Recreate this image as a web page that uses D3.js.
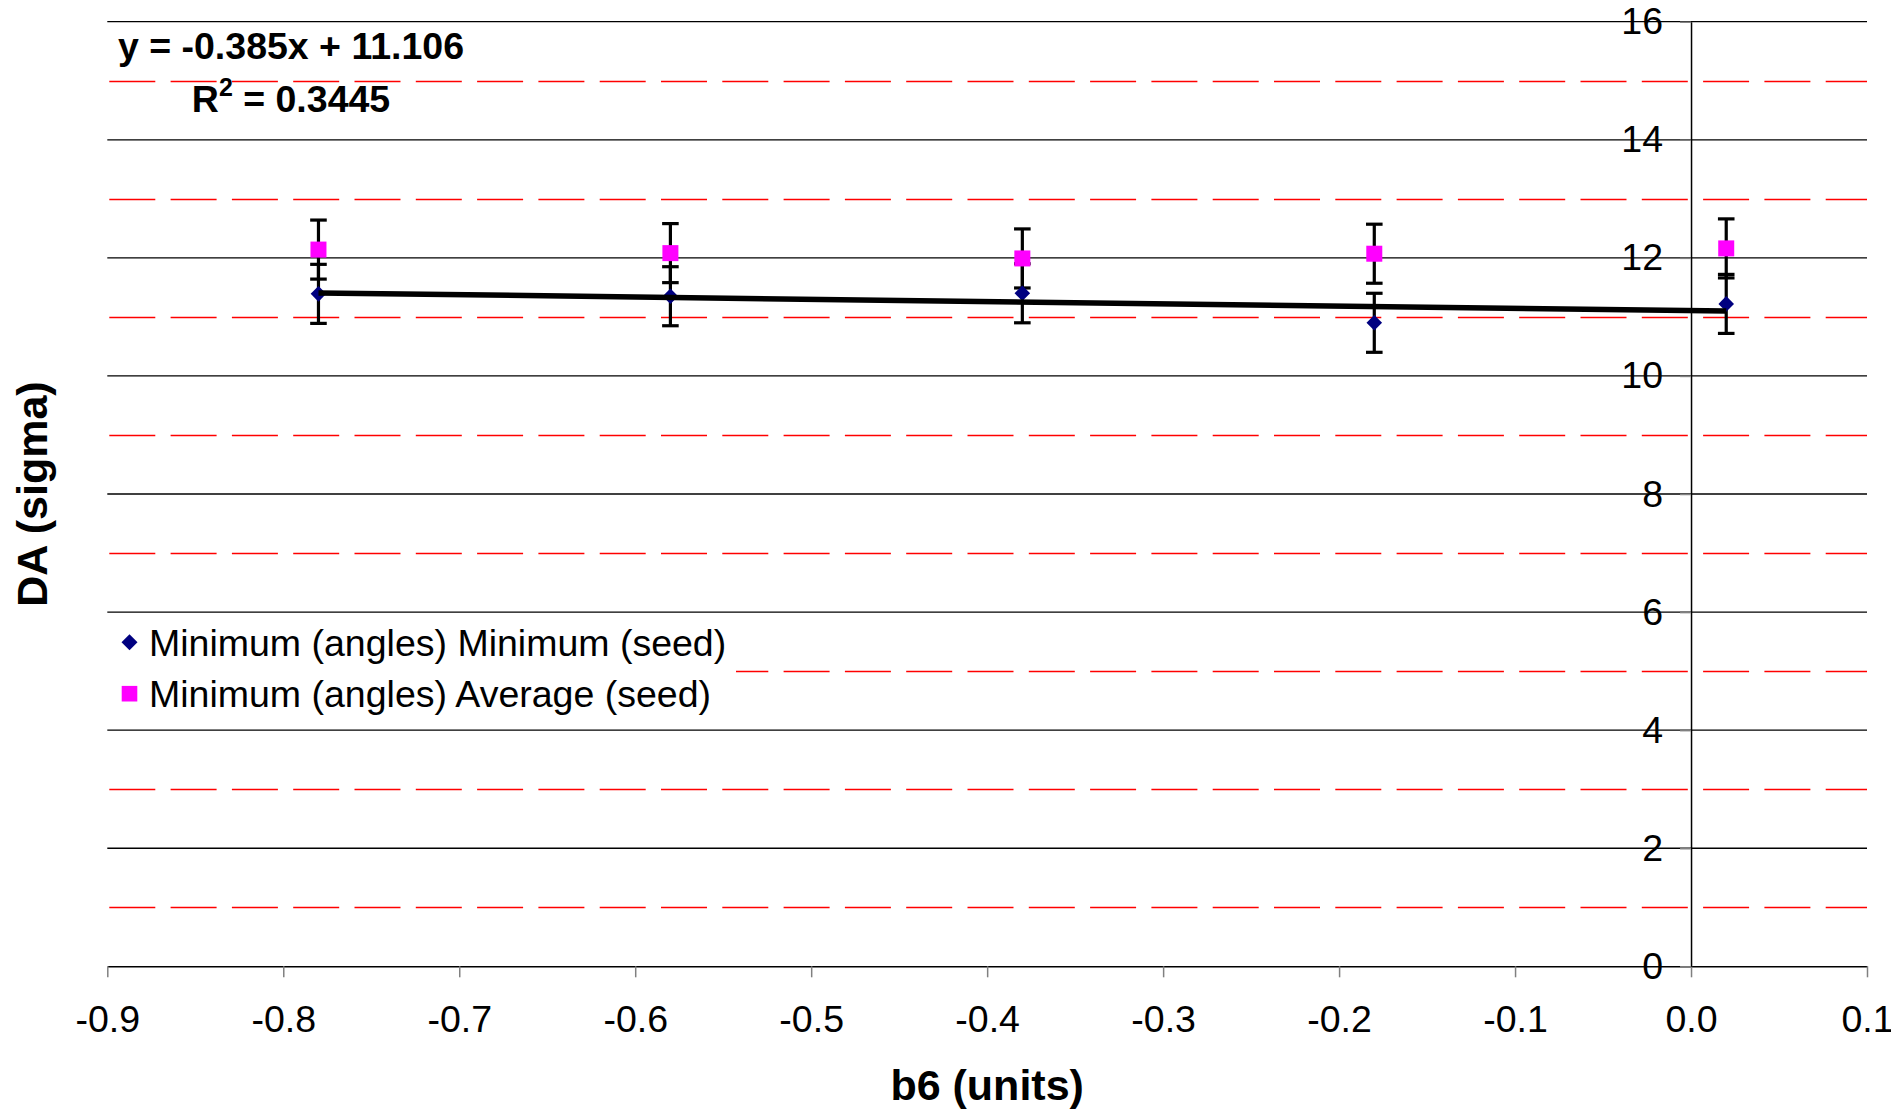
<!DOCTYPE html>
<html>
<head>
<meta charset="utf-8">
<script src="https://cdn.jsdelivr.net/npm/d3@7"></script>
<style>
  html, body { margin: 0; padding: 0; background: #fff; }
  svg { display: block; font-family: "Liberation Sans", Arial, sans-serif; }
</style>
</head>
<body>
<svg id="chart" width="1891" height="1110"></svg>
<script>
// ---- data ----
const xValues = [-0.78, -0.58, -0.38, -0.18, 0.02];
const minSeed = [11.39, 11.35, 11.40, 10.90, 11.22];
const avgSeed = [12.14, 12.08, 11.99, 12.07, 12.16];
const errorAmount = [0.5, 0.5, 0.5, 0.5, 0.5];
const trendSlope = -0.385;
const trendIntercept = 11.106;
const rSquared = "0.3445";
const xTickValues = [-0.9, -0.8, -0.7, -0.6, -0.5, -0.4, -0.3, -0.2, -0.1, 0.0, 0.1];
const yTickValues = [0, 2, 4, 6, 8, 10, 12, 14, 16];
const yMinorValues = [1, 3, 5, 7, 9, 11, 13, 15];
const seriesNames = ["Minimum (angles) Minimum (seed)", "Minimum (angles) Average (seed)"];
const xTitle = "b6 (units)";
const yTitle = "DA (sigma)";

// ---- layout ----
const svg = d3.select("#chart");
const pLeft = 107.3, pRight = 1867, pTop = 21.7, pBottom = 966.3;
const x = d3.scaleLinear().domain([-0.9, 0.1]).range([pLeft, pRight]);
const y = d3.scaleLinear().domain([0, 16]).range([pBottom, pTop]);
const fontSize = 37.5;
const fmtX = d => (Math.abs(d) < 1e-9 ? 0 : d).toFixed(1);

// gridlines (major, black solid)
svg.append("g").selectAll("line").data(yTickValues.filter(d => d > 0)).join("line")
  .attr("x1", pLeft).attr("x2", pRight)
  .attr("y1", d => y(d)).attr("y2", d => y(d))
  .attr("stroke", "#000").attr("stroke-width", 1.3);

// minor gridlines (red dashed)
svg.append("g").selectAll("line").data(yMinorValues).join("line")
  .attr("x1", pLeft + 2).attr("x2", pRight)
  .attr("y1", d => Math.round(y(d)) + 0.5).attr("y2", d => Math.round(y(d)) + 0.5)
  .attr("stroke", "#ff0000").attr("stroke-width", 1.3)
  .attr("stroke-dasharray", "46 15.3");

// x axis
const xAxis = svg.append("g").attr("transform", `translate(0,${y(0)})`)
  .call(d3.axisBottom(x).tickValues(xTickValues).tickFormat(fmtX)
    .tickSize(11).tickSizeOuter(0).tickPadding(28));
xAxis.select(".domain").attr("stroke", "#000").attr("stroke-width", 1.5);
xAxis.selectAll(".tick line").attr("stroke", "#808080").attr("stroke-width", 1.5);
xAxis.selectAll("text").attr("font-size", fontSize).attr("fill", "#000")
  .attr("font-family", "Liberation Sans, Arial, sans-serif");

// y axis at x = 0
const yAxis = svg.append("g").attr("transform", `translate(${x(0)},0)`)
  .call(d3.axisLeft(y).tickValues(yTickValues).tickFormat(d3.format("d"))
    .tickSize(11).tickSizeOuter(0).tickPadding(17));
yAxis.select(".domain").attr("stroke", "#000").attr("stroke-width", 1.5);
yAxis.selectAll(".tick line").attr("stroke", "#808080").attr("stroke-width", 1.5);
yAxis.selectAll("text").attr("font-size", fontSize).attr("fill", "#000")
  .attr("font-family", "Liberation Sans, Arial, sans-serif");

// error bars
const capHalf = 8.3;
function drawErrors(vals) {
  const g = svg.append("g").attr("stroke", "#000").attr("stroke-width", 3.2);
  vals.forEach((v, i) => {
    const cx = x(xValues[i]);
    const lo = y(v - errorAmount[i]), hi = y(v + errorAmount[i]);
    g.append("line").attr("x1", cx).attr("x2", cx).attr("y1", lo).attr("y2", hi);
    g.append("line").attr("x1", cx - capHalf).attr("x2", cx + capHalf).attr("y1", lo).attr("y2", lo);
    g.append("line").attr("x1", cx - capHalf).attr("x2", cx + capHalf).attr("y1", hi).attr("y2", hi);
  });
}
drawErrors(minSeed);
drawErrors(avgSeed);

// markers
function diamondPath(s) {
  return `M0,${-s}L${s},0L0,${s}L${-s},0Z`;
}
svg.append("g").selectAll("path").data(xValues).join("path")
  .attr("d", diamondPath(7.8))
  .attr("transform", (d, i) => `translate(${x(d)},${y(minSeed[i])})`)
  .attr("fill", "#000080");
svg.append("g").selectAll("rect").data(xValues).join("rect")
  .attr("x", d => x(d) - 8).attr("width", 16)
  .attr("y", (d, i) => y(avgSeed[i]) - 8).attr("height", 16)
  .attr("fill", "#ff00ff");

// trendline
const tx0 = xValues[0], tx1 = xValues[xValues.length - 1];
svg.append("line")
  .attr("x1", x(tx0)).attr("y1", y(trendSlope * tx0 + trendIntercept))
  .attr("x2", x(tx1)).attr("y2", y(trendSlope * tx1 + trendIntercept))
  .attr("stroke", "#000").attr("stroke-width", 5.5);

// equation label
const eqX = 291;
svg.append("text").attr("x", eqX).attr("y", 59)
  .attr("text-anchor", "middle").attr("font-weight", "bold").attr("font-size", fontSize)
  .text(`y = ${trendSlope}x + ${trendIntercept}`);
const r2 = svg.append("text").attr("x", eqX).attr("y", 112)
  .attr("text-anchor", "middle").attr("font-weight", "bold").attr("font-size", fontSize);
r2.append("tspan").text("R");
r2.append("tspan").attr("dy", -16).attr("font-size", 25).text("2");
r2.append("tspan").attr("dy", 16).text(` = ${rSquared}`);

// legend
const lg = svg.append("g");
lg.append("rect").attr("x", pLeft).attr("y", 614).attr("width", 736 - pLeft).attr("height", 110).attr("fill", "#fff");
const legendRows = [642.3, 693.7];
lg.append("path").attr("d", diamondPath(8))
  .attr("transform", `translate(129.5,${legendRows[0]})`).attr("fill", "#000080");
lg.append("rect").attr("x", 121.7).attr("y", legendRows[1] - 7.8).attr("width", 15.6).attr("height", 15.6).attr("fill", "#ff00ff");
seriesNames.forEach((n, i) => {
  lg.append("text").attr("x", 149).attr("y", legendRows[i]).attr("dy", "0.36em")
    .attr("font-size", fontSize).text(n);
});

// axis titles
svg.append("text").attr("x", (pLeft + pRight) / 2).attr("y", 1100)
  .attr("text-anchor", "middle").attr("font-weight", "bold").attr("font-size", 43)
  .text(xTitle);
svg.append("text").attr("transform", `translate(47,${(pTop + pBottom) / 2}) rotate(-90)`)
  .attr("text-anchor", "middle").attr("font-weight", "bold").attr("font-size", 43)
  .text(yTitle);
</script>
</body>
</html>
